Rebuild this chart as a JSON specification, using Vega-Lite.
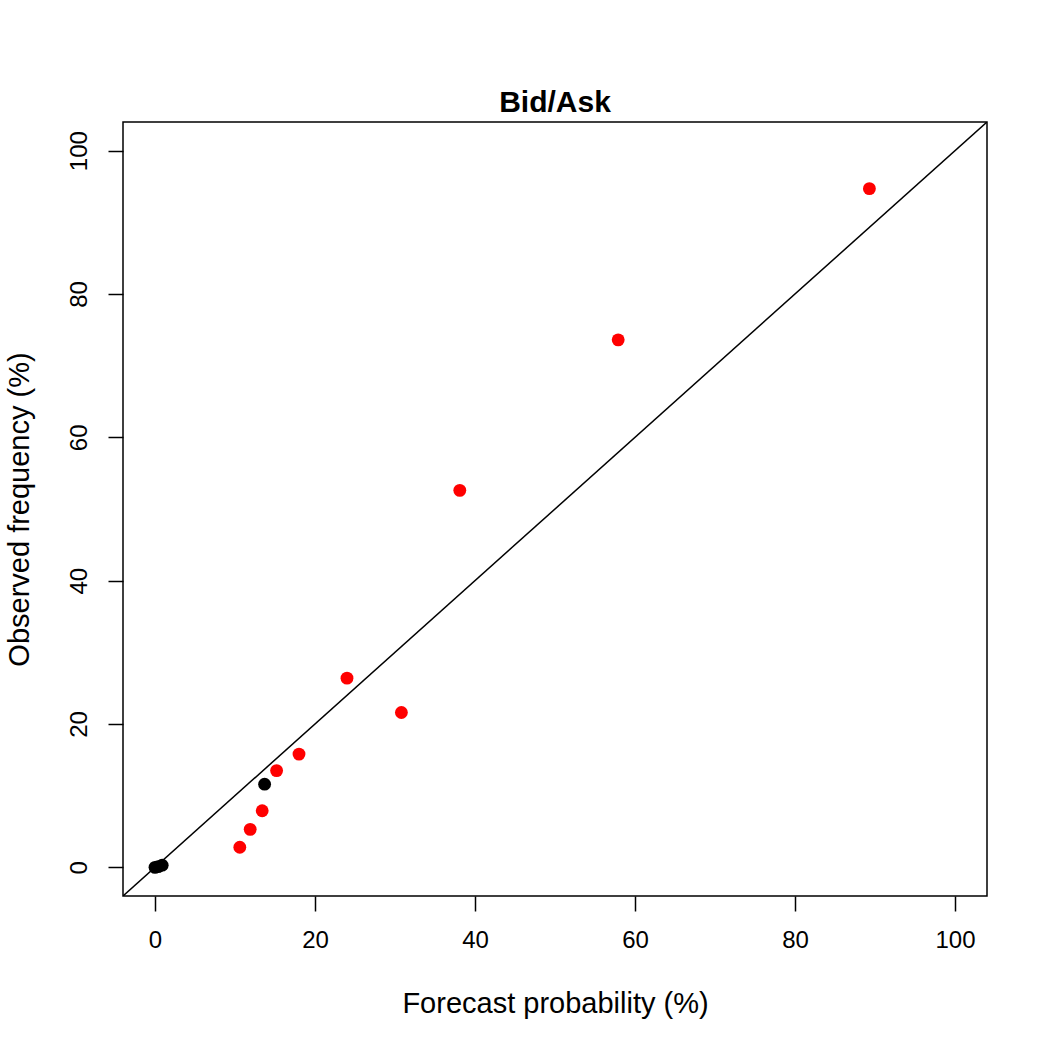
{
  "$schema": "https://vega.github.io/schema/vega-lite/v6.json",
  "width": 864,
  "height": 774,
  "autosize": "none",
  "padding": {"left": 123, "top": 122, "right": 63, "bottom": 154},
  "background": "white",
  "config": {
    "font": "Liberation Sans",
    "view": {"stroke": "black", "strokeWidth": 1.5, "fill": null}
  },
  "title": {
    "text": "Bid/Ask",
    "fontSize": 30,
    "fontWeight": "bold",
    "font": "Liberation Sans",
    "color": "black",
    "anchor": "middle",
    "frame": "group",
    "baseline": "alphabetic",
    "offset": 9,
    "dy": 29
  },
  "datasets": {
    "pts": [
      {"forecast": 10.6, "observed": 2.8, "group": "red"},
      {"forecast": 11.9, "observed": 5.3, "group": "red"},
      {"forecast": 13.4, "observed": 7.9, "group": "red"},
      {"forecast": 15.2, "observed": 13.5, "group": "red"},
      {"forecast": 18.0, "observed": 15.8, "group": "red"},
      {"forecast": 24.0, "observed": 26.4, "group": "red"},
      {"forecast": 30.8, "observed": 21.6, "group": "red"},
      {"forecast": 38.1, "observed": 52.6, "group": "red"},
      {"forecast": 57.9, "observed": 73.6, "group": "red"},
      {"forecast": 89.3, "observed": 94.7, "group": "red"},
      {"forecast": 13.7, "observed": 11.6, "group": "black"},
      {"forecast": 0.0, "observed": 0.0, "group": "black"},
      {"forecast": 0.4, "observed": 0.1, "group": "black"},
      {"forecast": 0.9, "observed": 0.3, "group": "black"}
    ],
    "diag": [{"x": -4, "y": -4, "x2": 104, "y2": 104}]
  },
  "layer": [
    {
      "data": {"name": "diag"},
      "mark": {"type": "rule", "color": "black", "strokeWidth": 1.5, "clip": true},
      "encoding": {
        "x": {"field": "x", "type": "quantitative", "scale": {"domain": [-4, 104], "nice": false, "zero": false}},
        "y": {"field": "y", "type": "quantitative", "scale": {"domain": [-4, 104], "nice": false, "zero": false}},
        "x2": {"field": "x2"},
        "y2": {"field": "y2"}
      }
    },
    {
      "data": {"name": "pts"},
      "mark": {"type": "circle", "size": 165, "opacity": 1},
      "encoding": {
        "x": {
          "field": "forecast",
          "type": "quantitative",
          "scale": {"domain": [-4, 104], "nice": false, "zero": false},
          "axis": {
            "title": "Forecast probability (%)",
            "values": [0, 20, 40, 60, 80, 100],
            "domain": false,
            "grid": false,
            "tickSize": 15,
            "tickColor": "black",
            "tickWidth": 1.5,
            "labelFontSize": 24,
            "labelColor": "black",
            "labelPadding": 17,
            "labelFont": "Liberation Sans",
            "titleFont": "Liberation Sans",
            "titleFontSize": 29,
            "titleFontWeight": "normal",
            "titleColor": "black",
            "titleBaseline": "alphabetic",
            "titleY": 116
          }
        },
        "y": {
          "field": "observed",
          "type": "quantitative",
          "scale": {"domain": [-4, 104], "nice": false, "zero": false},
          "axis": {
            "title": "Observed frequency (%)",
            "values": [0, 20, 40, 60, 80, 100],
            "domain": false,
            "grid": false,
            "tickSize": 15,
            "tickColor": "black",
            "tickWidth": 1.5,
            "labelFontSize": 24,
            "labelColor": "black",
            "labelAngle": -90,
            "labelAlign": "center",
            "labelBaseline": "alphabetic",
            "labelPadding": 22,
            "labelFont": "Liberation Sans",
            "titleFont": "Liberation Sans",
            "titleFontSize": 29,
            "titleFontWeight": "normal",
            "titleColor": "black",
            "titleAngle": -90,
            "titleBaseline": "alphabetic",
            "titleX": -95
          }
        },
        "color": {
          "field": "group",
          "type": "nominal",
          "scale": {"domain": ["black", "red"], "range": ["black", "#ff0000"]},
          "legend": null
        }
      }
    }
  ]
}
